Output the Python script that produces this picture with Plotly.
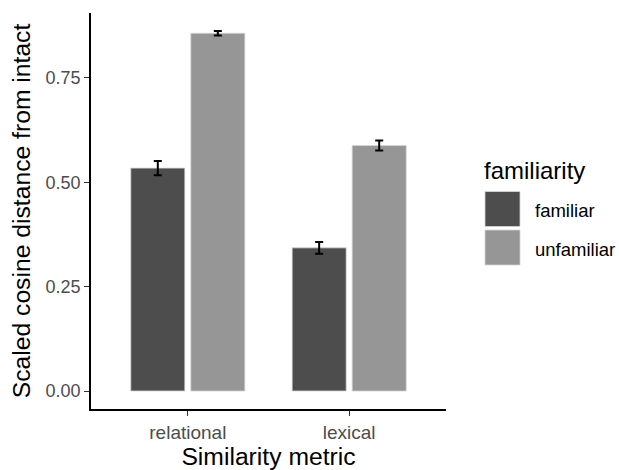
import plotly.graph_objects as go

categories = ["relational", "lexical"]
groups = ["familiar", "unfamiliar"]
values = {
    "familiar": [0.534, 0.343],
    "unfamiliar": [0.857, 0.588],
}
errors = {
    "familiar": [0.017, 0.014],
    "unfamiliar": [0.0055, 0.012],
}
colors = {"familiar": "#4d4d4d", "unfamiliar": "#969696"}
y_ticks = [0.0, 0.25, 0.5, 0.75]
y_ticklabels = ["0.00", "0.25", "0.50", "0.75"]

FONT = "Liberation Sans, Arial, sans-serif"

fig = go.Figure()
for g in groups:
    fig.add_trace(go.Bar(
        x=categories, y=values[g], name=g,
        marker=dict(color=colors[g], line=dict(color="#d4d4d4", width=0.8)),
        error_y=dict(type="data", array=errors[g], color="black",
                     thickness=2, width=4),
        showlegend=False,
    ))

W, H = 619, 470
ml, mr, mt, mb = 91, 173, 13, 61
pw, ph = W - ml - mr, H - mt - mb


def px_x(px):
    return (px - ml) / pw


def px_y(py):
    return (H - mb - py) / ph


# manual legend (large keys like ggplot)
shapes = []
annotations = [dict(
    text="familiarity", x=px_x(482), y=px_y(170), xref="paper", yref="paper",
    xanchor="left", yanchor="middle", showarrow=False,
    font=dict(family=FONT, size=24, color="black"),
)]
key_top = 191.5
for i, g in enumerate(groups):
    y0 = key_top + i * 38.5
    shapes.append(dict(
        type="rect", xref="paper", yref="paper",
        x0=px_x(485), x1=px_x(520), y0=px_y(y0 + 35), y1=px_y(y0),
        fillcolor=colors[g], line=dict(color="#d4d4d4", width=0.8),
    ))
    annotations.append(dict(
        text=g, x=px_x(533), y=px_y(y0 + 19), xref="paper", yref="paper",
        xanchor="left", yanchor="middle", showarrow=False,
        font=dict(family=FONT, size=18.5, color="black"),
    ))

fig.update_layout(
    width=W, height=H,
    margin=dict(l=ml, r=mr, t=mt, b=mb),
    plot_bgcolor="white", paper_bgcolor="white",
    barmode="group", bargap=0.256, bargroupgap=0.1,
    font=dict(family=FONT),
    shapes=shapes, annotations=annotations,
    xaxis=dict(
        range=[-0.6, 1.6], showline=True, linecolor="black", linewidth=1.5,
        ticks="outside", ticklen=5, tickcolor="#333333", tickwidth=1.2,
        tickfont=dict(family=FONT, size=19, color="#4d4d4d"),
        title=dict(text="Similarity metric", standoff=0,
                   font=dict(family=FONT, size=24.7, color="black")),
        showgrid=False, zeroline=False, automargin=False,
    ),
    yaxis=dict(
        range=[-0.0431, 0.9056], showline=True, linecolor="black", linewidth=1.5,
        ticks="outside", ticklen=5, tickcolor="#333333", tickwidth=1.2,
        tickvals=y_ticks, ticktext=y_ticklabels,
        tickfont=dict(family=FONT, size=18, color="#4d4d4d"),
        title=dict(text="Scaled cosine distance from intact", standoff=8,
                   font=dict(family=FONT, size=24.7, color="black")),
        showgrid=False, zeroline=False, automargin=False,
    ),
)

fig.write_html(
    "out.html",
    config={"displayModeBar": False},
    post_script="document.body.style.margin='0';document.body.style.overflow='hidden';",
)
